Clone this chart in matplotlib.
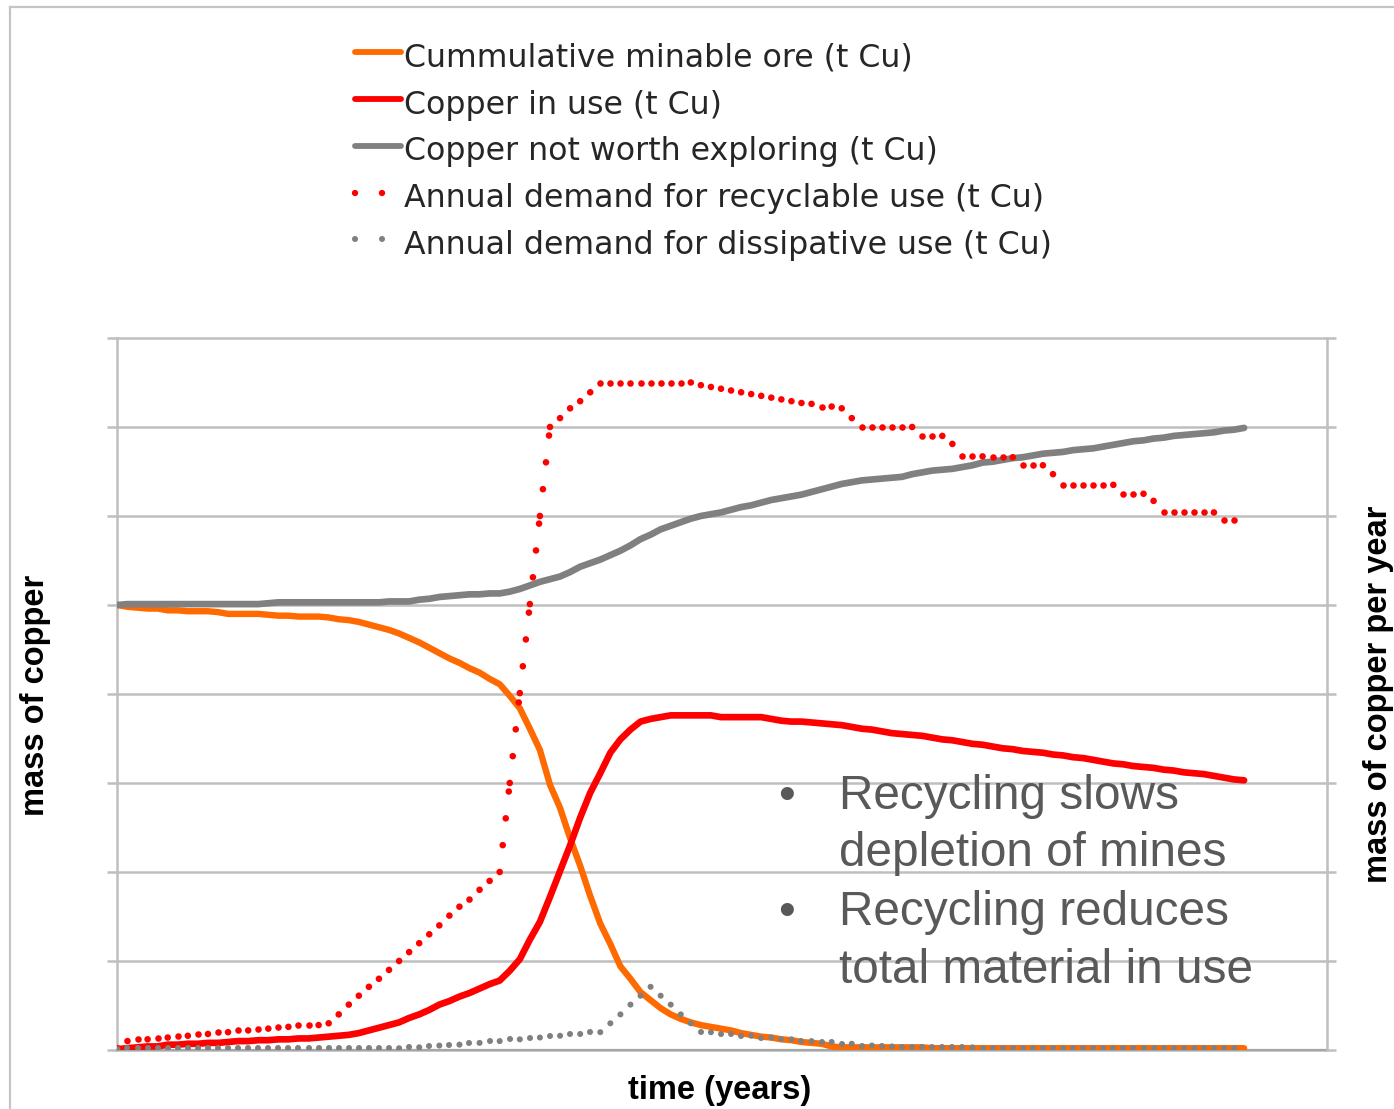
import matplotlib
matplotlib.use("Agg")
import matplotlib.pyplot as plt
from matplotlib.lines import Line2D
from matplotlib.collections import LineCollection

plt.rcParams['lines.scale_dashes'] = False

W, H, DPI = 1394, 1109, 100

# ---------------- data (grid units, 8 gridline intervals) ----------------
years = list(range(113))

ore = [5.00, 4.98, 4.97, 4.96, 4.96, 4.94, 4.94, 4.93, 4.93, 4.93,
       4.92, 4.90, 4.90, 4.90, 4.90, 4.89, 4.88, 4.88, 4.87, 4.87,
       4.87, 4.86, 4.84, 4.83, 4.81, 4.78, 4.75, 4.72, 4.68, 4.63,
       4.58, 4.52, 4.46, 4.40, 4.35, 4.29, 4.24, 4.17, 4.11, 3.98,
       3.84, 3.61, 3.37, 2.98, 2.72, 2.38, 2.07, 1.73, 1.42, 1.19,
       0.94, 0.80, 0.65, 0.56, 0.47, 0.40, 0.35, 0.31, 0.28, 0.26,
       0.24, 0.22, 0.19, 0.17, 0.15, 0.14, 0.12, 0.11, 0.09, 0.08,
       0.07, 0.04, 0.03, 0.03, 0.03, 0.03, 0.03, 0.03, 0.03, 0.03,
       0.03, 0.02, 0.02, 0.02, 0.02, 0.02, 0.02, 0.02, 0.02, 0.02,
       0.02, 0.02, 0.02, 0.02, 0.02, 0.02, 0.02, 0.02, 0.02, 0.02,
       0.02, 0.02, 0.02, 0.02, 0.02, 0.02, 0.02, 0.02, 0.02, 0.02,
       0.02, 0.02, 0.02]

in_use = [0.01, 0.02, 0.03, 0.04, 0.04, 0.06, 0.06, 0.07, 0.07, 0.08,
          0.08, 0.09, 0.10, 0.10, 0.11, 0.11, 0.12, 0.12, 0.13, 0.13,
          0.14, 0.15, 0.16, 0.17, 0.19, 0.22, 0.25, 0.28, 0.31, 0.36,
          0.40, 0.45, 0.51, 0.55, 0.60, 0.64, 0.69, 0.74, 0.78, 0.89,
          1.02, 1.24, 1.44, 1.72, 2.01, 2.30, 2.61, 2.89, 3.11, 3.34,
          3.49, 3.60, 3.69, 3.72, 3.74, 3.76, 3.76, 3.76, 3.76, 3.76,
          3.74, 3.74, 3.74, 3.74, 3.74, 3.72, 3.70, 3.69, 3.69, 3.68,
          3.67, 3.66, 3.65, 3.63, 3.61, 3.60, 3.58, 3.56, 3.55, 3.54,
          3.53, 3.51, 3.49, 3.48, 3.46, 3.44, 3.43, 3.41, 3.39, 3.38,
          3.36, 3.35, 3.34, 3.32, 3.31, 3.29, 3.28, 3.26, 3.24, 3.22,
          3.21, 3.19, 3.18, 3.17, 3.15, 3.14, 3.12, 3.11, 3.10, 3.08,
          3.06, 3.04, 3.03]

not_worth = [5.00, 5.01, 5.01, 5.01, 5.01, 5.01, 5.01, 5.01, 5.01, 5.01,
             5.01, 5.01, 5.01, 5.01, 5.01, 5.02, 5.03, 5.03, 5.03, 5.03,
             5.03, 5.03, 5.03, 5.03, 5.03, 5.03, 5.03, 5.04, 5.04, 5.04,
             5.06, 5.07, 5.09, 5.10, 5.11, 5.12, 5.12, 5.13, 5.13, 5.15,
             5.18, 5.22, 5.26, 5.29, 5.32, 5.37, 5.43, 5.47, 5.51, 5.56,
             5.61, 5.67, 5.74, 5.79, 5.85, 5.89, 5.93, 5.97, 6.00, 6.02,
             6.04, 6.07, 6.10, 6.12, 6.15, 6.18, 6.20, 6.22, 6.24, 6.27,
             6.30, 6.33, 6.36, 6.38, 6.40, 6.41, 6.42, 6.43, 6.44, 6.47,
             6.49, 6.51, 6.52, 6.53, 6.55, 6.57, 6.60, 6.61, 6.63, 6.65,
             6.66, 6.68, 6.70, 6.71, 6.72, 6.74, 6.75, 6.76, 6.78, 6.80,
             6.82, 6.84, 6.85, 6.87, 6.88, 6.90, 6.91, 6.92, 6.93, 6.94,
             6.96, 6.97, 6.99]

demand_recyclable = [0.02, 0.10, 0.12, 0.12, 0.14, 0.14, 0.16, 0.16, 0.18, 0.18,
                     0.20, 0.20, 0.22, 0.22, 0.24, 0.24, 0.26, 0.26, 0.28, 0.28,
                     0.28, 0.30, 0.40, 0.51, 0.61, 0.71, 0.80, 0.90, 1.00, 1.10,
                     1.20, 1.30, 1.40, 1.51, 1.61, 1.69, 1.80, 1.90, 2.00, 3.00,
                     4.01, 5.01, 6.00, 7.00, 7.10, 7.21, 7.29, 7.39, 7.50, 7.50,
                     7.50, 7.50, 7.50, 7.50, 7.50, 7.50, 7.50, 7.50, 7.47, 7.45,
                     7.43, 7.41, 7.39, 7.37, 7.35, 7.33, 7.31, 7.29, 7.27, 7.26,
                     7.23, 7.23, 7.21, 7.10, 7.00, 7.00, 7.00, 7.00, 7.00, 7.00,
                     6.90, 6.90, 6.90, 6.81, 6.67, 6.67, 6.67, 6.66, 6.66, 6.66,
                     6.57, 6.57, 6.57, 6.47, 6.35, 6.35, 6.35, 6.35, 6.35, 6.35,
                     6.25, 6.25, 6.25, 6.17, 6.04, 6.04, 6.04, 6.04, 6.04, 6.04,
                     5.96, 5.96, 5.96]

demand_dissipative = [0.01, 0.02, 0.02, 0.02, 0.02, 0.02, 0.02, 0.02, 0.02, 0.02,
                      0.02, 0.02, 0.02, 0.02, 0.02, 0.02, 0.02, 0.02, 0.02, 0.02,
                      0.02, 0.02, 0.02, 0.02, 0.02, 0.02, 0.02, 0.02, 0.02, 0.03,
                      0.03, 0.05, 0.05, 0.06, 0.06, 0.08, 0.08, 0.10, 0.10, 0.12,
                      0.12, 0.14, 0.14, 0.16, 0.16, 0.18, 0.18, 0.20, 0.20, 0.30,
                      0.40, 0.51, 0.61, 0.71, 0.61, 0.51, 0.40, 0.30, 0.20, 0.20,
                      0.18, 0.18, 0.16, 0.16, 0.14, 0.14, 0.12, 0.12, 0.10, 0.10,
                      0.09, 0.09, 0.07, 0.07, 0.05, 0.05, 0.04, 0.04, 0.03, 0.03,
                      0.03, 0.03, 0.03, 0.03, 0.03, 0.03, 0.02, 0.02, 0.02, 0.02,
                      0.02, 0.02, 0.02, 0.02, 0.02, 0.02, 0.02, 0.02, 0.02, 0.02,
                      0.02, 0.02, 0.02, 0.02, 0.02, 0.02, 0.02, 0.02, 0.02, 0.02,
                      0.02, 0.02, 0.02]

legend_labels = ["Cummulative minable ore (t Cu)",
                 "Copper in use (t Cu)",
                 "Copper not worth exploring (t Cu)",
                 "Annual demand for recyclable use (t Cu)",
                 "Annual demand for dissipative use (t Cu)"]
bullet_lines = [("Recycling slows", "depletion of mines"),
                ("Recycling reduces", "total material in use")]
left_label = "mass of copper"
right_label = "mass of copper per year"
x_label = "time (years)"

# ---------------- style ----------------
ORANGE = '#FF6A00'
RED = '#FF0000'
GRAY = '#808080'
GRID = '#BFBFBF'
DOT = (0, (0.01, 19.43))   # round dots every ~27 px

def fx(px):
    return px / W

def fy(py):
    return 1 - py / H

fig = plt.figure(figsize=(W / DPI, H / DPI), dpi=DPI)
ax = fig.add_axes([fx(117), fy(1050), fx(1327) - fx(117), fy(338) - fy(1050)])
ax2 = ax.twinx()

for a in (ax, ax2):
    a.set_xlim(-0.04, 120.24)
    a.set_ylim(0, 8)
    a.set_yticks(range(9))

ax.yaxis.grid(True, color=GRID, lw=1.8, clip_on=False)
ax.set_axisbelow(True)
ax.tick_params(axis='y', direction='out', length=7.2, width=1.8, color=GRID,
               labelleft=False)
ax.tick_params(axis='x', bottom=False, labelbottom=False)
ax2.tick_params(axis='y', direction='out', length=6.5, width=1.8, color=GRID,
                labelright=False, right=True)
ax2.tick_params(axis='x', bottom=False, labelbottom=False)

ax.spines['top'].set_visible(False)
ax.spines['right'].set_visible(False)
ax.spines['left'].set_color(GRID)
ax.spines['left'].set_linewidth(1.8)
ax.spines['bottom'].set_color('#A6A6A6')
ax.spines['bottom'].set_linewidth(1.6)
for s in ('top', 'left', 'bottom'):
    ax2.spines[s].set_visible(False)
ax2.spines['right'].set_color(GRID)
ax2.spines['right'].set_linewidth(1.8)

# solid series
ax.plot(years, ore, color=ORANGE, lw=4.6, solid_capstyle='round',
        solid_joinstyle='round', zorder=3)
ax.plot(years, in_use, color=RED, lw=4.8, solid_capstyle='round',
        solid_joinstyle='round', zorder=3)
ax.plot(years, not_worth, color=GRAY, lw=4.8, solid_capstyle='round',
        solid_joinstyle='round', zorder=3)


def dotted(axis, x, y, color, lw):
    segs = [[(x[i], y[i]), (x[i + 1], y[i + 1])] for i in range(len(x) - 1)]
    lc = LineCollection(segs, colors=color, linewidths=lw, linestyles=[DOT],
                        capstyle='round', zorder=4)
    axis.add_collection(lc)


dotted(ax2, years, demand_recyclable, RED, 4.8)
dotted(ax2, years, demand_dissipative, GRAY, 4.4)

# ---------------- legend (drawn manually) ----------------
handle_styles = [dict(color=ORANGE, lw=4.2, solid_capstyle='round'),
                 dict(color=RED, lw=4.2, solid_capstyle='round'),
                 dict(color=GRAY, lw=4.2, solid_capstyle='round'),
                 dict(color=RED, lw=4.6, linestyle=DOT, dash_capstyle='round'),
                 dict(color=GRAY, lw=4.4, linestyle=DOT, dash_capstyle='round')]
for i, (lab, st) in enumerate(zip(legend_labels, handle_styles)):
    yc = 52.3 + 46.75 * i
    fig.add_artist(Line2D([fx(354.5), fx(401)], [fy(yc), fy(yc)],
                          transform=fig.transFigure, **st))
    fig.text(fx(404), fy(yc + 14.5), lab, fontsize=22.8, family='DejaVu Sans',
             color='#262626', va='baseline', ha='left')

# ---------------- axis titles ----------------
fig.text(fx(36), fy(695), left_label, rotation=90, ha='center', va='center',
         fontsize=23.5, fontweight='bold', family='Liberation Sans', color='black')
fig.text(fx(1378), fy(694), right_label, rotation=90, ha='center', va='center',
         fontsize=23.5, fontweight='bold', family='Liberation Sans', color='black')
fig.text(fx(720), fy(1091), x_label, ha='center', va='center',
         fontsize=23.5, fontweight='bold', family='Liberation Sans', color='black')

# ---------------- bullet annotation ----------------
ANN = '#595959'
baselines = [(809, 866), (925, 983)]
for (l1, l2), (b1, b2) in zip(bullet_lines, baselines):
    fig.text(fx(787), fy(b1), '\u2022', ha='center', va='baseline', fontsize=34.4,
             family='Liberation Sans', color=ANN)
    fig.text(fx(839), fy(b1), l1, ha='left', va='baseline', fontsize=34.4,
             family='Liberation Sans', color=ANN)
    fig.text(fx(839), fy(b2), l2, ha='left', va='baseline', fontsize=34.4,
             family='Liberation Sans', color=ANN)

# ---------------- outer frame ----------------
fig.add_artist(Line2D([fx(9.5), fx(9.5)], [fy(6.5), 0], transform=fig.transFigure,
                      color='#C4C4C4', lw=1.6))
fig.add_artist(Line2D([fx(9.5), 1], [fy(6.5), fy(6.5)], transform=fig.transFigure,
                      color='#C4C4C4', lw=1.6))

fig.savefig('out.png', dpi=DPI)
